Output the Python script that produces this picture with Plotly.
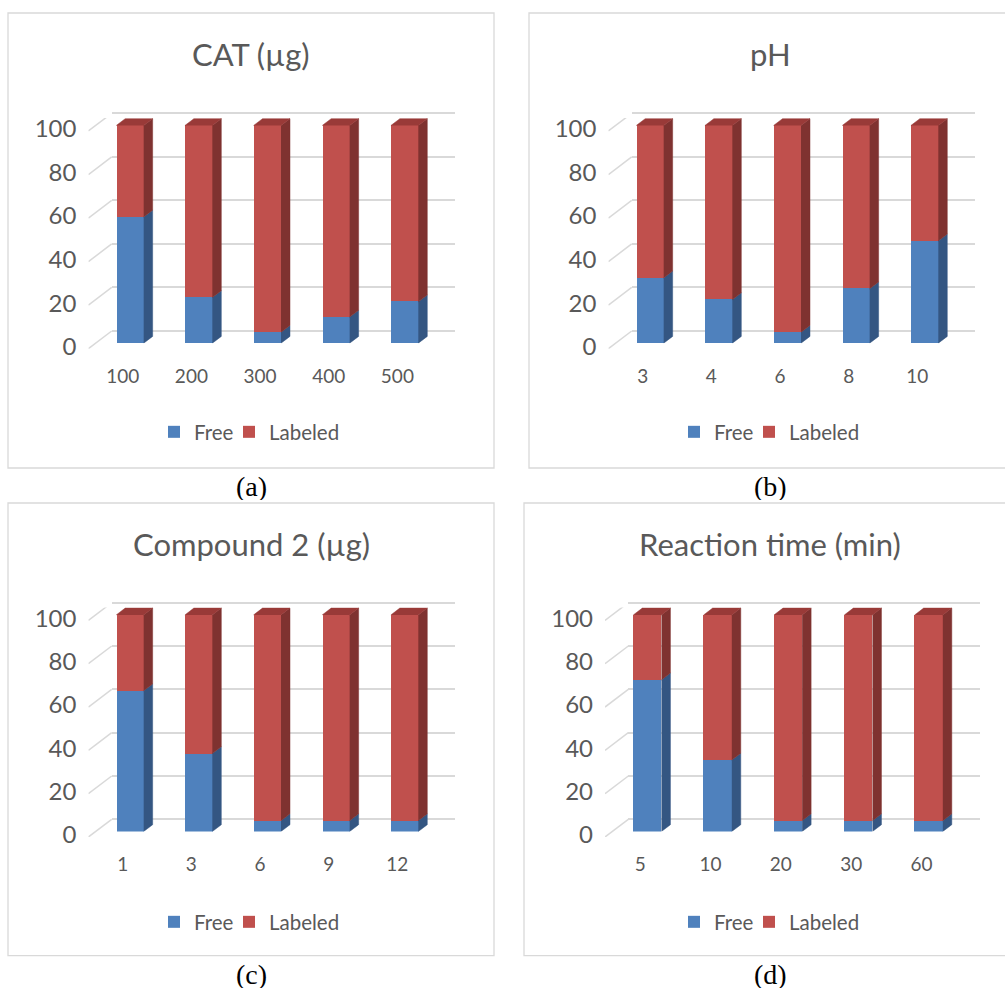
import plotly.graph_objects as go

# ---------------- data ----------------
panel_titles = ["CAT (µg)", "pH", "Compound 2 (µg)", "Reaction time (min)"]
captions = ["(a)", "(b)", "(c)", "(d)"]
series_names = ["Free", "Labeled"]

cat_a = ["100", "200", "300", "400", "500"]
free_a = [58, 21, 5, 12, 19]
labeled_a = [42, 79, 95, 88, 81]

cat_b = ["3", "4", "6", "8", "10"]
free_b = [30, 20, 5, 25, 47]
labeled_b = [70, 80, 95, 75, 53]

cat_c = ["1", "3", "6", "9", "12"]
free_c = [65, 36, 5, 5, 5]
labeled_c = [35, 64, 95, 95, 95]

cat_d = ["5", "10", "20", "30", "60"]
free_d = [70, 33, 5, 5, 5]
labeled_d = [30, 67, 95, 95, 95]

y_ticks = [0, 20, 40, 60, 80, 100]

# ---------------- styling / layout geometry ----------------
W, H = 1005, 989
FONT = "Lato, Carlito, Calibri, sans-serif"
TXT = "#595959"
GRID = "#D9D9D9"
BLUE, BLUE_SIDE = "#4F81BD", "#345682"
RED, RED_SIDE, RED_TOP = "#C0504D", "#7F3230", "#993A38"

geo = [
    dict(xb0=111.7, xb1=455.0, yb0=331.0, yb100=113.3, box=(8, 13, 494, 468), cx=251, legx=(154, 229), top=13),
    dict(xb0=631.7, xb1=975.0, yb0=331.0, yb100=113.3, box=(529, 13, 1010, 468), cx=770, legx=(674, 749), top=13),
    dict(xb0=111.7, xb1=455.0, yb0=819.3, yb100=602.7, box=(8, 503, 494, 955.7), cx=251, legx=(154, 229), top=503),
    dict(xb0=628.3, xb1=980.0, yb0=819.3, yb100=602.7, box=(524, 503, 1010, 955.7), cx=770, legx=(674, 749), top=503),
]
DDX, DDY = -23.3, 17.7
BAR_F = 0.69
BAR_D = 0.385
BAR_W = 0.4

def fx(px):
    return px / W

def fy(py):
    return 1 - py / H

panels = [
    (cat_a, free_a, labeled_a),
    (cat_b, free_b, labeled_b),
    (cat_c, free_c, labeled_c),
    (cat_d, free_d, labeled_d),
]

fig = go.Figure()
layout = dict(
    width=W, height=H, margin=dict(l=0, r=0, t=0, b=0, pad=0), autosize=False,
    paper_bgcolor="white", plot_bgcolor="rgba(0,0,0,0)",
    barmode="stack", bargap=0, showlegend=True,
    font=dict(family=FONT, color=TXT),
)
shapes = []
annotations = []

for p, (cats, free, lab) in enumerate(panels):
    g = geo[p]
    span = g["yb0"] - g["yb100"]
    slot = (g["xb1"] - g["xb0"]) / len(cats)
    n = 3 * p
    ia, ib, ic = n + 1, n + 2, n + 3

    def nm(k, i):
        return k if i == 1 else f"{k}{i}"

    # label axes: front edge of the floor
    lx0 = g["xb0"] + DDX
    lx1 = g["xb1"] + DDX
    lr = [0, 106]
    lbot = g["yb0"] + DDY
    ltop = lbot - span * lr[1] / 100
    layout[nm("xaxis", ia)] = dict(
        domain=[fx(lx0), fx(lx1)], range=[-0.5, len(cats) - 0.5], anchor=nm("y", ia),
        tickvals=list(range(len(cats))), ticktext=cats, showgrid=False, zeroline=False,
        showline=False, ticks="", tickfont=dict(size=19, color=TXT, family=FONT),
        ticklabelstandoff=14, fixedrange=True, automargin=False,
    )
    layout[nm("yaxis", ia)] = dict(
        domain=[fy(lbot), fy(ltop)], range=lr, anchor=nm("x", ia),
        tickvals=y_ticks, showgrid=False, zeroline=False, showline=False, ticks="",
        tickfont=dict(size=24, color=TXT, family=FONT), ticklabelstandoff=11,
        ticklabelshift=-2, fixedrange=True, automargin=False,
    )
    dxs, dys = [], []
    for v in y_ticks:
        dxs += [-0.5, -0.5 + (-DDX) / slot, None]
        dys += [v, v + DDY * 100 / span, None]
    fig.add_trace(go.Scatter(
        x=dxs, y=dys, mode="lines", line=dict(color=GRID, width=1.5),
        xaxis=nm("x", ia), yaxis=nm("y", ia), showlegend=False, hoverinfo="skip",
    ))

    # grid axes: back wall
    gr = [-2, 106]
    gbot = g["yb0"] - span * gr[0] / 100
    gtop = g["yb0"] - span * gr[1] / 100
    layout[nm("xaxis", ib)] = dict(
        domain=[fx(g["xb0"]), fx(g["xb1"])], range=[0, 1], anchor=nm("y", ib),
        visible=False, fixedrange=True, automargin=False,
    )
    layout[nm("yaxis", ib)] = dict(
        domain=[fy(gbot), fy(gtop)], range=gr, anchor=nm("x", ib),
        tickvals=y_ticks, showgrid=True, gridcolor=GRID, gridwidth=1.5,
        zeroline=False, showline=False, showticklabels=False, ticks="", fixedrange=True,
        automargin=False,
    )
    fig.add_trace(go.Scatter(
        x=[0.5], y=[50], mode="markers", marker=dict(opacity=0),
        xaxis=nm("x", ib), yaxis=nm("y", ib), showlegend=False, hoverinfo="skip",
    ))

    # bar axes: front faces of the columns
    bx0 = g["xb0"] + BAR_F * DDX
    bx1 = g["xb1"] + BAR_F * DDX
    br = [0, 112]
    bbot = g["yb0"] + BAR_F * DDY
    btop = bbot - span * br[1] / 100
    layout[nm("xaxis", ic)] = dict(
        domain=[fx(bx0), fx(bx1)], range=[-0.5, len(cats) - 0.5], anchor=nm("y", ic),
        visible=False, fixedrange=True, automargin=False,
    )
    layout[nm("yaxis", ic)] = dict(
        domain=[fy(bbot), fy(btop)], range=br, anchor=nm("x", ic),
        visible=False, fixedrange=True, automargin=False,
    )
    xs = list(range(len(cats)))
    leg1 = f"legend{2 * p + 1}" if p > 0 else "legend"
    leg2 = f"legend{2 * p + 2}"
    fig.add_trace(go.Bar(
        x=xs, y=free, name=series_names[0], width=BAR_W, marker=dict(color=BLUE, line=dict(width=0)),
        xaxis=nm("x", ic), yaxis=nm("y", ic), legend=leg1,
    ))
    fig.add_trace(go.Bar(
        x=xs, y=lab, name=series_names[1], width=BAR_W, marker=dict(color=RED, line=dict(width=0)),
        xaxis=nm("x", ic), yaxis=nm("y", ic), legend=leg2,
    ))
    ddx = BAR_D * (-DDX) / slot
    ddy = BAR_D * DDY * 100 / span
    sbx, sby, srx, sry, tx, ty = [], [], [], [], [], []
    for i, (f, l) in enumerate(zip(free, lab)):
        xr = i + BAR_W / 2
        xl = i - BAR_W / 2
        t = f + l
        sbx += [xr, xr + ddx, xr + ddx, xr, None]
        sby += [0, ddy, f + ddy, f, None]
        srx += [xr, xr + ddx, xr + ddx, xr, None]
        sry += [f, f + ddy, t + ddy, t, None]
        tx += [xl, xl + ddx, xr + ddx, xr, None]
        ty += [t, t + ddy, t + ddy, t, None]
    for X, Y, col in [(sbx, sby, BLUE_SIDE), (srx, sry, RED_SIDE), (tx, ty, RED_TOP)]:
        fig.add_trace(go.Scatter(
            x=X, y=Y, mode="lines", fill="toself", fillcolor=col,
            line=dict(color=col, width=0.5), xaxis=nm("x", ic), yaxis=nm("y", ic),
            showlegend=False, hoverinfo="skip",
        ))

    for leg, lxpos in [(leg1, g["legx"][0]), (leg2, g["legx"][1])]:
        layout[leg] = dict(
            orientation="h", x=fx(lxpos), xanchor="left", y=fy(g["top"] + 419), yanchor="middle",
            font=dict(size=20.5, color=TXT, family=FONT), bgcolor="rgba(0,0,0,0)",
            itemwidth=30, traceorder="normal",
        )

    x0, y0, x1, y1 = g["box"]
    shapes.append(dict(type="rect", xref="paper", yref="paper", x0=fx(x0), x1=fx(x1),
                       y0=fy(y1), y1=fy(y0), line=dict(color=GRID, width=1.3), layer="below"))
    annotations.append(dict(text=panel_titles[p], xref="paper", yref="paper", x=fx(g["cx"]),
                            y=fy(g["top"] + 41), xanchor="center", yanchor="middle", showarrow=False,
                            font=dict(size=31, color=TXT, family=FONT)))
    annotations.append(dict(text=captions[p], xref="paper", yref="paper", x=fx(g["cx"]),
                            y=fy(y1 + 18.3), xanchor="center", yanchor="middle", showarrow=False,
                            height=28, valign="middle",
                            font=dict(size=28, color="black", family="Liberation Serif, Times New Roman, serif")))

layout["shapes"] = shapes
layout["annotations"] = annotations
fig.update_layout(**layout)

fig.write_html("out.html", config={"displayModeBar": False},
               post_script="document.body.style.margin='0';")
